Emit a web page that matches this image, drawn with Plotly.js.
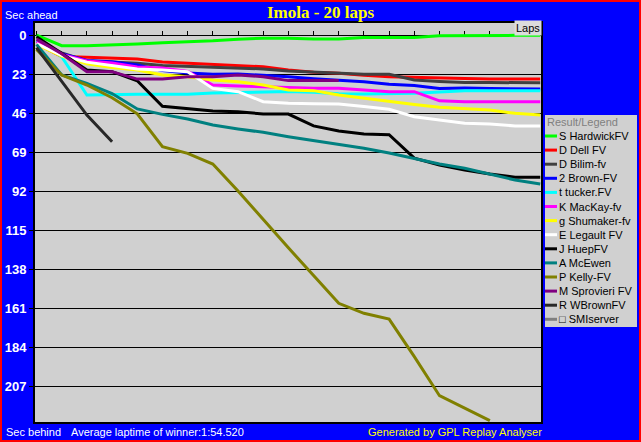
<!DOCTYPE html>
<html><head><meta charset="utf-8">
<script src="https://cdn.plot.ly/plotly-3.0.1.min.js"></script>
<style>
html,body{margin:0;padding:0;background:#ff0000;width:641px;height:442px;overflow:hidden}
#chart{position:absolute;left:2px;top:2px;width:637px;height:438px}
</style></head><body><div id="chart"></div>
<script>
const laps = [0,1,2,3,4,5,6,7,8,9,10,11,12,13,14,15,16,17,18,19,20];
const yTicks = [0,23,46,69,92,115,138,161,184,207];
const names = ["S HardwickFV","D Dell FV","D Bilim-fv","2 Brown-FV","t tucker.FV","K MacKay-fv","g Shumaker-fv","E Legault FV","J HuepFV","A McEwen","P Kelly-FV","M Sprovieri FV","R WBrownFV","\u25A1 SMIserver"];
const colors = ["#00ff00","#ff0000","#404040","#0000ff","#00ffff","#ff00ff","#ffff00","#ffffff","#000000","#008080","#808000","#800080","#282828","#808080"];

const hardwick  = [0,6.3,6.3,6.0,5.3,4.5,4.0,3.4,2.5,1.9,1.9,2.4,2.4,1.4,1.4,1.5,0.5,0.3,0.2,0.2,0.2];
const dell      = [5,12.7,13.1,13.5,14.2,15.9,16.6,17.3,18.1,18.7,20.6,21.9,22.5,23.8,24.6,25.1,25.5,25.7,26.0,26.0,26.0];
const bilim     = [4,10.5,15.3,15.9,16.6,18.0,18.5,19.2,19.6,20.0,21.2,21.9,22.6,23.2,23.2,26.5,27.4,28.0,28.0,28.2,28.2];
const brown     = [3.5,11,15.0,15.7,17.7,21.0,22.4,23.2,23.0,23.6,24.6,25.8,26.5,27.6,29.0,29.8,31.5,31.3,31.6,31.5,31.8];
const tucker    = [3,12.8,35.4,35.0,35.0,35.0,35.0,34.2,34.0,33.5,33.3,33.8,34.6,34.8,34.8,34.4,33.6,32.8,32.8,32.8,32.8];
const mackay    = [4,11.5,15.3,16.5,18.9,19.5,21.5,29.5,30.0,30.5,31.0,31.4,31.4,32.4,33.4,33.4,38.8,39.3,39.3,39.3,39.3];
const shumaker  = [5.5,12.5,17.0,19.2,20.6,23.6,24.6,26.5,27.5,29.5,32.4,32.8,35.4,37.3,39.3,41.0,42.6,43.6,44.2,46.2,47.2];
const legault   = [5,12,16.0,18.0,20.0,20.6,21.6,31.5,33.4,39.3,40.3,40.5,40.7,42.1,43.8,48.2,50.1,52.0,52.5,53.6,53.6];
const huep      = [1,10.8,20.6,21.6,27.0,42.0,43.6,44.8,45.2,46.6,46.6,53.6,56.6,58.4,58.8,72.6,76.7,79.6,82.0,83.9,83.9];
const mcewen    = [5.5,23.6,28.5,34.5,43.6,46.8,49.5,53.1,55.4,57.4,60.0,62.3,64.9,66.8,69.6,72.7,76.1,78.6,82.0,85.5,87.9];
const kelly     = [8.5,23.6,29.5,37.0,46.5,65.9,69.8,76.1,92.0,108.9,125.5,141.8,158.2,164.1,167.5,189.7,212.7,220.0,227.4];
const sprovieri = [2.4,11,21.6,21.6,26.0,26.0,24.6,24.6,23.6,24.6,26.9,26.9,26.9];
const wbrown    = [7.5,27.3,47.2,62.9];
const smiserver = [];

const series = [hardwick,dell,bilim,brown,tucker,mackay,shumaker,legault,huep,mcewen,kelly,sprovieri,wbrown,smiserver];

// page pixel -> paper coords helpers (plot area on page: x 34..542, y 22..423)
const PL=34, PR=542, PT=22, PB=423;
const X = px => (px-PL)/(PR-PL);
const Y = py => (PB-py)/(PB-PT);

const traces = series.map((v,i)=>({
  type:'scatter', mode:'lines', name:names[i],
  x: laps.slice(0, v.length), y: v,
  line:{color:colors[i], width:3},
  hoverinfo:'skip', showlegend:false
}));

const smallFont = {family:'Liberation Sans, Arial, sans-serif', size:11};
const shapes = [
  {type:'rect', xref:'paper', yref:'paper', x0:X(545), x1:X(637), y0:Y(115), y1:Y(327), fillcolor:'#d0d0d0', line:{width:0}, layer:'below'},
  {type:'rect', xref:'paper', yref:'paper', x0:0, x1:1, y0:0, y1:1, line:{color:'#000000', width:2}, layer:'above'}
];
const annotations = [
  {text:'Sec ahead', xref:'paper', yref:'paper', x:X(3), y:Y(15), xanchor:'left', yanchor:'middle', showarrow:false, font:Object.assign({color:'#ffffff'}, smallFont)},
  {text:'Sec behind', xref:'paper', yref:'paper', x:X(4), y:Y(432), xanchor:'left', yanchor:'middle', showarrow:false, font:Object.assign({color:'#ffffff'}, smallFont)},
  {text:'Average laptime of winner:1:54.520', xref:'paper', yref:'paper', x:X(69), y:Y(432), xanchor:'left', yanchor:'middle', showarrow:false, font:Object.assign({color:'#ffffff'}, smallFont)},
  {text:'Generated by GPL Replay Analyser', xref:'paper', yref:'paper', x:X(544), y:Y(432), xanchor:'right', yanchor:'middle', showarrow:false, font:Object.assign({color:'#ffff00'}, smallFont)},
  {text:'Laps', xref:'paper', yref:'paper', x:X(542), y:Y(28), xanchor:'right', yanchor:'middle', showarrow:false, bgcolor:'#dcdcdc', font:Object.assign({color:'#000000'}, smallFont)},
  {text:'Result/Legend', xref:'paper', yref:'paper', x:X(545), y:Y(122), xanchor:'left', yanchor:'middle', showarrow:false, font:Object.assign({color:'#808080'}, smallFont)}
];
names.forEach((n,i)=>{
  const yy = 136 + i*14.1;
  shapes.push({type:'line', xref:'paper', yref:'paper', x0:X(545), x1:X(557), y0:Y(yy), y1:Y(yy), line:{color:colors[i], width:3}});
  annotations.push({text:n, xref:'paper', yref:'paper', x:X(557), y:Y(yy), xanchor:'left', yanchor:'middle', showarrow:false, font:Object.assign({color:'#000000'}, smallFont)});
});

const layout = {
  width:637, height:438,
  margin:{l:32, r:97, t:20, b:17, pad:0},
  paper_bgcolor:'#0000ff', plot_bgcolor:'#d0d0d0',
  showlegend:false,
  title:{text:'Imola - 20 laps', font:{family:'Liberation Serif, Times New Roman, serif', size:17, color:'#ffff00', weight:'bold'},
         x:0.5, xanchor:'center', xref:'container', y:1-10/438, yanchor:'middle', yref:'container'},
  xaxis:{range:[-0.1,20.07], anchor:'free', position:Y(35), side:'top', ticks:'outside', ticklen:4, tickwidth:1, tickcolor:'#000000',
         dtick:1, tick0:0, showticklabels:false, showline:true, linecolor:'#000000', linewidth:1, showgrid:false, zeroline:false,
         fixedrange:true, layer:'below traces'},
  yaxis:{range:[228.8,-7.67], tickmode:'array', tickvals:yTicks, ticktext:yTicks.map(String), ticks:'outside', ticklen:4, tickcolor:'#000000',
         showgrid:true, gridcolor:'#000000', gridwidth:1, zeroline:false, showline:false, fixedrange:true, layer:'below traces',
         tickfont:{family:'Liberation Sans, Arial, sans-serif', size:13, color:'#ffffff', weight:'bold'}},
  shapes:shapes, annotations:annotations
};
Plotly.newPlot('chart', traces, layout, {staticPlot:true, displayModeBar:false});
</script></body></html>
